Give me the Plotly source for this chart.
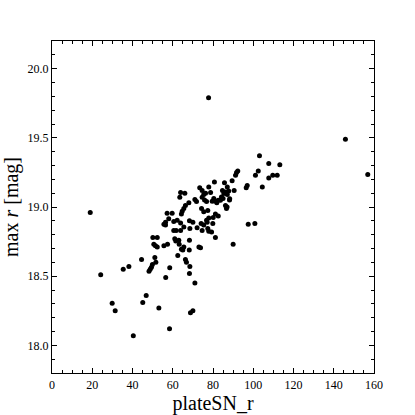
"""
Nuage de points : magnitude max r en fonction de plateSN_r
"""

import plotly.graph_objects as go


plate_sn = [
    19.0, 24.2, 29.9, 31.4, 40.4, 35.4, 38.2, 44.5, 46.8, 45.1,
    53.1, 58.4, 68.8, 70.0, 71.0, 68.3, 68.5, 66.3, 66.8, 62.5,
    56.5, 58.5, 51.1, 51.6, 49.9, 49.4, 48.8, 48.2, 50.1, 52.3,
    50.6, 51.4, 52.3, 55.6, 57.4, 61.0, 61.5, 63.0, 60.5, 61.7,
    63.2, 64.3, 65.5, 65.0, 68.3, 68.2, 73.0, 73.8, 56.4, 63.9,
    65.5, 68.5, 72.1, 74.6, 77.4, 77.9, 63.9, 66.0, 63.5, 73.4,
    74.6, 75.4, 76.3, 77.9, 71.0, 71.8, 68.0, 66.3, 65.5, 64.7,
    64.3, 74.3, 75.4, 77.4, 77.9, 76.8, 57.2, 59.7, 58.0, 56.4,
    55.6, 60.5, 62.2, 63.9, 68.3, 70.0, 75.4, 103.1, 107.7, 113.2,
    102.5, 101.1, 109.7, 111.9, 107.7, 104.5, 92.3, 91.7, 91.2, 97.0,
    96.5, 89.5, 90.5, 85.7, 87.1, 87.8, 88.3, 80.7, 78.8, 85.4,
    86.2, 87.1, 84.2, 85.0, 83.7, 82.6, 81.2, 79.6, 80.4, 86.2,
    87.0, 86.7, 81.2, 82.6, 80.1, 77.1, 97.5, 100.8, 79.9, 81.2,
    90.0, 145.8, 156.9, 77.8, 75.8, 76.8, 74.6, 84.7, 88.2, 74.1,
    79.3, 81.9,
]

max_r = [
    18.96, 18.51, 18.305, 18.25, 18.07, 18.55, 18.57, 18.62, 18.36, 18.31,
    18.27, 18.12, 18.235, 18.25, 18.45, 18.52, 18.57, 18.62, 18.60, 18.65,
    18.49, 18.56, 18.635, 18.60, 18.585, 18.565, 18.55, 18.535, 18.78, 18.78,
    18.73, 18.72, 18.71, 18.72, 18.73, 18.77, 18.755, 18.76, 18.83, 18.83,
    18.73, 18.695, 18.71, 18.69, 18.76, 18.69, 18.71, 18.705, 18.87, 18.83,
    18.855, 18.845, 18.85, 18.83, 18.845, 18.825, 19.105, 19.10, 19.07, 19.14,
    19.12, 19.09, 19.10, 19.145, 19.055, 19.04, 19.03, 19.01, 18.99, 18.97,
    18.95, 18.99, 18.965, 18.975, 18.92, 18.905, 18.955, 18.955, 18.915, 18.89,
    18.875, 18.895, 18.905, 18.885, 18.90, 18.89, 18.87, 19.37, 19.315, 19.305,
    19.26, 19.23, 19.23, 19.23, 19.21, 19.145, 19.26, 19.25, 19.23, 19.155,
    19.14, 19.19, 19.12, 19.175, 19.145, 19.115, 19.06, 19.18, 19.105, 19.097,
    19.109, 19.09, 19.073, 19.061, 19.049, 19.049, 19.042, 19.042, 19.061, 19.01,
    19.0, 18.99, 18.95, 18.935, 18.925, 18.89, 18.875, 18.88, 18.88, 18.78,
    18.73, 19.49, 19.235, 19.79, 19.05, 19.04, 19.07, 19.12, 19.05, 18.88,
    18.82, 19.03,
]

x_range = [0, 160]
y_range = [17.8, 20.2]

FONT = "Liberation Serif"


def axis_style(dtick, minor_dtick, fmt=None):
    """Style d'axe façon matplotlib classique (cadre noir, ticks internes)"""
    style = dict(
        showline=True, linecolor="black", linewidth=1.3, mirror="ticks",
        ticks="inside", ticklen=5, tickwidth=1, tickcolor="black",
        dtick=dtick, showgrid=False, zeroline=False, automargin=False,
        tickfont=dict(family=FONT, size=12, color="black"),
        minor=dict(dtick=minor_dtick, ticks="inside", ticklen=3,
                   tickwidth=0.8, tickcolor="black", showgrid=False),
    )
    if fmt:
        style["tickformat"] = fmt
    return style


fig = go.Figure(go.Scatter(
    x=plate_sn, y=max_r, mode="markers",
    marker=dict(color="black", size=5, line=dict(width=0)),
))

fig.update_xaxes(range=x_range, tick0=0,
                 title=dict(text="plateSN_r", standoff=4,
                            font=dict(family=FONT, size=20, color="black")),
                 **axis_style(20, 5))
fig.update_yaxes(range=y_range, tick0=18.0,
                 title=dict(text="max <i>r</i> [mag]", standoff=6,
                            font=dict(family=FONT, size=20, color="black")),
                 **axis_style(0.5, 0.1, ".1f"))

fig.update_layout(
    width=415, height=415,
    margin=dict(l=52, r=41, t=41, b=42),
    plot_bgcolor="white", paper_bgcolor="white",
    showlegend=False,
)

# la page ajoute une marge de 8px autour du graphique : on la retire
fig.write_html("out.html", config={"displayModeBar": False},
               post_script="document.body.style.margin='0';")
